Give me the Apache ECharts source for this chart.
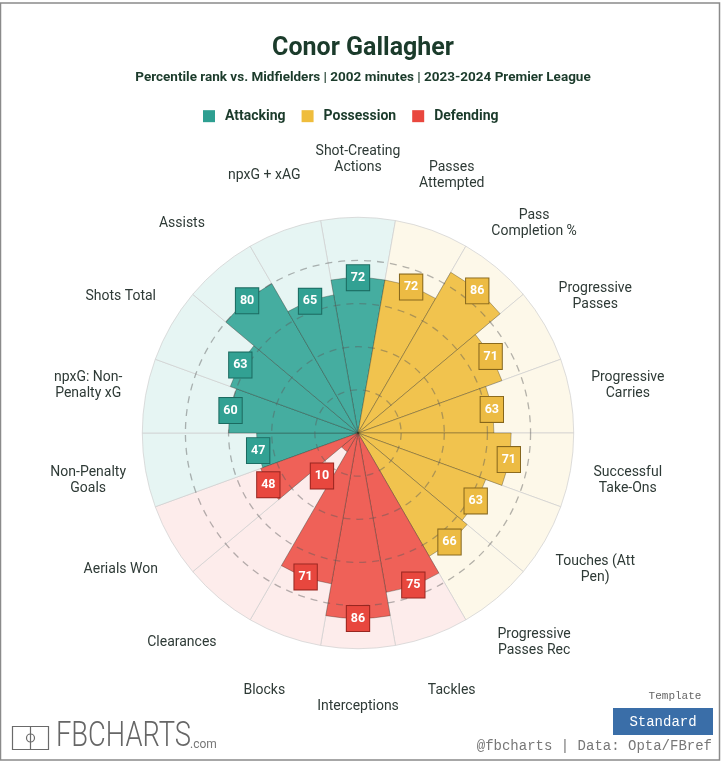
<html>
  <head>
    <script src="https://cdn.jsdelivr.net/npm/echarts@6/dist/echarts.min.js"></script>
    <title>Conor Gallagher</title>
  </head>
  <body style="margin:0; background-color:#ffffff;">
    <div id="chart" style="width:728px; height:762px;"></div>
    <script>
      const categories = ['Shot-Creating\nActions', 'Passes\nAttempted', 'Pass\nCompletion %', 'Progressive\nPasses',
        'Progressive\nCarries', 'Successful\nTake-Ons', 'Touches (Att\nPen)', 'Progressive\nPasses Rec', 'Tackles',
        'Interceptions', 'Blocks', 'Clearances', 'Aerials Won', 'Non-Penalty\nGoals', 'npxG: Non-\nPenalty xG',
        'Shots Total', 'Assists', 'npxG + xAG'];
      const groupOf = ['Attacking', 'Possession', 'Possession', 'Possession', 'Possession', 'Possession', 'Possession',
        'Possession', 'Defending', 'Defending', 'Defending', 'Defending', 'Defending', 'Attacking', 'Attacking',
        'Attacking', 'Attacking', 'Attacking'];
      const percentiles = [72, 72, 86, 71, 63, 71, 63, 66, 75, 86, 71, 10, 48, 47, 60, 63, 80, 65];
      const groups = ['Attacking', 'Possession', 'Defending'];

      const barColor = { Attacking: '#45ada0', Possession: '#f1c34e', Defending: '#ef6158' };
      const legendColor = { Attacking: '#2e9f91', Possession: '#efbd3c', Defending: '#e9473e' };
      const boxColor = { Attacking: '#32a193', Possession: '#ecbb43', Defending: '#e8473e' };
      const boxBorder = { Attacking: '#1b6a60', Possession: '#85661c', Defending: '#982620' };
      const bgColor = { Attacking: '#e6f5f3', Possession: '#fdf8e9', Defending: '#fdeceb' };
      const textDark = '#1b3b2b';

      const chart = echarts.init(document.getElementById('chart'));

      // one stacked series per group so the legend has something to point at
      const groupSeries = groups.map(g => ({
        name: g,
        type: 'bar',
        coordinateSystem: 'polar',
        stack: 'pct',
        z: 2,
        barCategoryGap: '0%',
        barGap: '-100%',
        itemStyle: { color: barColor[g], borderColor: 'rgba(40,40,30,0.55)', borderWidth: 0.6 },
        data: percentiles.map((v, i) => groupOf[i] === g ? v : '-')
      }));

      const option = {
        backgroundColor: '#ffffff',
        animation: false,
        title: [
          {
            text: 'Conor Gallagher',
            left: 358,
            top: 24,
            textAlign: 'center',
            textStyle: { fontFamily: 'Roboto', fontSize: 25, fontWeight: 'bold', color: textDark }
          },
          {
            text: 'Percentile rank vs. Midfielders | 2002 minutes | 2023-2024 Premier League',
            left: 358,
            top: 62,
            textAlign: 'center',
            textStyle: { fontFamily: 'Roboto', fontSize: 13.5, fontWeight: 'bold', color: textDark }
          }
        ],
        legend: {
          data: groups.map(g => ({ name: g, itemStyle: { color: legendColor[g], borderWidth: 0 } })),
          left: 198,
          top: 100,
          icon: 'rect',
          itemWidth: 12,
          itemHeight: 12,
          itemGap: 16,
          textStyle: { fontFamily: 'Roboto', fontSize: 14, fontWeight: 'bold', color: textDark, padding: [0, 0, 0, 5] }
        },
        polar: { center: [358, 433], radius: 302 },
        angleAxis: {
          type: 'category',
          data: categories,
          startAngle: 100,
          clockwise: true,
          axisLine: { show: false },
          axisTick: { show: false },
          axisLabel: { show: false },
          splitLine: { show: false }
        },
        radiusAxis: {
          type: 'value',
          min: 0,
          max: 140,
          interval: 20,
          z: 3,
          axisLine: { show: false },
          axisTick: { show: false },
          axisLabel: { show: false },
          splitLine: {
            show: true,
            lineStyle: {
              color: ['rgba(0,0,0,0)', 'rgba(90,90,90,0.45)', 'rgba(90,90,90,0.45)', 'rgba(90,90,90,0.45)',
                'rgba(90,90,90,0.45)', 'rgba(0,0,0,0)', 'rgba(0,0,0,0)', 'rgba(0,0,0,0)'],
              type: [7, 6],
              width: 1.3
            }
          }
        },
        series: [
          {
            name: 'background',
            type: 'bar',
            coordinateSystem: 'polar',
            z: 1,
            barCategoryGap: '0%',
            barGap: '-100%',
            silent: true,
            data: categories.map((c, i) => ({
              value: 100,
              itemStyle: { color: bgColor[groupOf[i]], borderColor: '#cfcfcf', borderWidth: 0.7 }
            }))
          },
          ...groupSeries,
          {
            name: 'values',
            type: 'scatter',
            coordinateSystem: 'polar',
            z: 5,
            symbolSize: 1,
            itemStyle: { color: 'rgba(0,0,0,0)', opacity: 1 },
            label: {
              show: true,
              position: 'inside',
              formatter: p => p.data.pct,
              fontFamily: 'Roboto',
              fontSize: 12.5,
              fontWeight: 'bold',
              color: '#ffffff',
              opacity: 1,
              borderWidth: 1,
              padding: [3, 4, 2, 4]
            },
            // small values get their box pushed out from the centre
            data: percentiles.map((v, i) => ({
              value: [Math.max(v, 26), i],
              pct: v,
              label: { backgroundColor: boxColor[groupOf[i]], borderColor: boxBorder[groupOf[i]] }
            }))
          },
          {
            name: 'names',
            type: 'scatter',
            coordinateSystem: 'polar',
            z: 5,
            symbolSize: 1,
            itemStyle: { color: 'rgba(0,0,0,0)', opacity: 1 },
            label: {
              show: true,
              position: 'inside',
              formatter: p => categories[p.value[1]],
              fontFamily: 'Roboto',
              fontSize: 14,
              lineHeight: 16,
              opacity: 1,
              color: '#2e3a36'
            },
            data: categories.map((c, i) => [127, i])
          }
        ],
        graphic: [
          {
            type: 'rect',
            shape: { x: 0.5, y: 3, width: 719, height: 757 },
            style: { fill: 'none', stroke: '#8a8a8a', lineWidth: 1.5 },
            silent: true
          },
          {
            type: 'group',
            left: 10,
            top: 724,
            children: [
              { type: 'rect', shape: { x: 0, y: 0, width: 36, height: 23 }, style: { fill: 'none', stroke: '#6a6a6a', lineWidth: 1.2 } },
              { type: 'line', shape: { x1: 18, y1: 0, x2: 18, y2: 23 }, style: { stroke: '#6a6a6a', lineWidth: 1.2 } },
              { type: 'circle', shape: { cx: 18, cy: 11.5, r: 4 }, style: { fill: 'none', stroke: '#6a6a6a', lineWidth: 1.2 } }
            ]
          },
          {
            type: 'text',
            x: 56,
            y: 737,
            scaleX: 0.78,
            scaleY: 1,
            style: {
              text: 'FBCHARTS', x: 0, y: 0, fill: '#666666',
              font: '300 35px Roboto, sans-serif',
              textAlign: 'left', textVerticalAlign: 'middle', align: 'left', verticalAlign: 'middle'
            }
          },
          {
            type: 'text',
            style: {
              text: '.com', x: 190, y: 745, fill: '#777777',
              font: '12px Roboto', textAlign: 'left', textVerticalAlign: 'middle', align: 'left', verticalAlign: 'middle'
            }
          },
          {
            type: 'text',
            style: {
              text: 'Template', x: 675, y: 696, fill: '#666666',
              font: '11px "Liberation Mono", monospace',
              textAlign: 'center', textVerticalAlign: 'middle', align: 'center', verticalAlign: 'middle'
            }
          },
          {
            type: 'rect',
            shape: { x: 613, y: 708, width: 100, height: 27 },
            style: { fill: '#3a6ea8' }
          },
          {
            type: 'text',
            style: {
              text: 'Standard', x: 663, y: 722, fill: '#ffffff',
              font: '14px "Liberation Mono", monospace',
              textAlign: 'center', textVerticalAlign: 'middle', align: 'center', verticalAlign: 'middle'
            }
          },
          {
            type: 'text',
            style: {
              text: '@fbcharts | Data: Opta/FBref', x: 712, y: 746, fill: '#777777',
              font: '14px "Liberation Mono", monospace',
              textAlign: 'right', textVerticalAlign: 'middle', align: 'right', verticalAlign: 'middle'
            }
          }
        ]
      };

      chart.setOption(option);
    </script>
  </body>
</html>
